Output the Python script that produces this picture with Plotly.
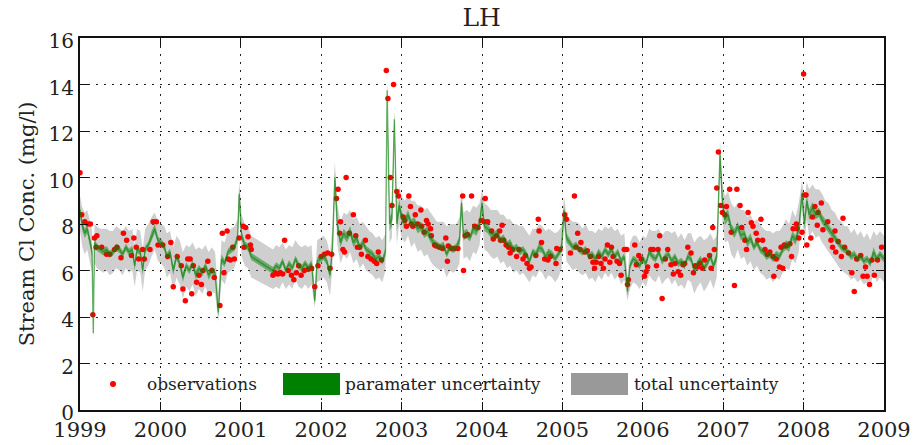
import plotly.graph_objects as go

# ---------------- observations (decimal year, mg/l) ----------------
obs_t = [
    1999.00, 1999.02, 1999.06, 1999.10, 1999.13, 1999.16, 1999.18, 1999.20, 1999.21, 1999.27,
    1999.33, 1999.37, 1999.43, 1999.46, 1999.51, 1999.54, 1999.58, 1999.64, 1999.67, 1999.70,
    1999.73, 1999.78, 1999.80, 1999.87, 1999.91, 1999.95, 1999.97, 2000.03, 2000.09, 2000.13,
    2000.16, 2000.21, 2000.26, 2000.28, 2000.31, 2000.34, 2000.37, 2000.39, 2000.41, 2000.45,
    2000.48, 2000.51, 2000.53, 2000.59, 2000.61, 2000.64, 2000.67, 2000.74, 2000.77, 2000.79,
    2000.83, 2000.84, 2000.87, 2000.90, 2000.92, 2000.98, 2001.03, 2001.04, 2001.06, 2001.09,
    2001.12, 2001.13, 2001.40, 2001.43, 2001.46, 2001.49, 2001.52, 2001.545, 2001.59, 2001.63,
    2001.66, 2001.69, 2001.72, 2001.75, 2001.79, 2001.84, 2001.88, 2001.92, 2001.96, 2002.00,
    2002.04, 2002.08, 2002.11, 2002.13, 2002.19, 2002.21, 2002.23, 2002.24, 2002.27, 2002.29,
    2002.31, 2002.35, 2002.40, 2002.43, 2002.45, 2002.48, 2002.50, 2002.55, 2002.58, 2002.62,
    2002.66, 2002.69, 2002.71, 2002.75, 2002.81, 2002.83, 2002.86, 2002.88, 2002.90, 2002.94,
    2002.96, 2003.02, 2003.04, 2003.06, 2003.09, 2003.11, 2003.12, 2003.14, 2003.17, 2003.20,
    2003.24, 2003.25, 2003.28, 2003.31, 2003.33, 2003.36, 2003.37, 2003.41, 2003.43, 2003.47,
    2003.51, 2003.55, 2003.57, 2003.58, 2003.62, 2003.66, 2003.70, 2003.76, 2003.77, 2003.79,
    2003.82, 2003.87, 2003.91, 2003.95, 2003.99, 2004.03, 2004.04, 2004.07, 2004.12, 2004.14,
    2004.18, 2004.22, 2004.23, 2004.25, 2004.27, 2004.30, 2004.33, 2004.35, 2004.38, 2004.43,
    2004.46, 2004.51, 2004.54, 2004.56, 2004.59, 2004.61, 2004.67, 2004.70, 2004.71, 2004.74,
    2004.78, 2004.82, 2004.85, 2004.92, 2004.93, 2004.97, 2005.03, 2005.05, 2005.10, 2005.15,
    2005.17, 2005.19, 2005.22, 2005.23, 2005.28, 2005.31, 2005.35, 2005.38, 2005.40, 2005.42,
    2005.45, 2005.48, 2005.51, 2005.53, 2005.56, 2005.59, 2005.61, 2005.63, 2005.68, 2005.71,
    2005.73, 2005.77, 2005.80, 2005.81, 2005.82, 2005.90, 2005.92, 2005.95, 2005.98, 2006.02,
    2006.04, 2006.06, 2006.10, 2006.13, 2006.17, 2006.19, 2006.21, 2006.24, 2006.28, 2006.31,
    2006.35, 2006.38, 2006.40, 2006.44, 2006.47, 2006.50, 2006.52, 2006.56, 2006.60, 2006.63,
    2006.65, 2006.68, 2006.71, 2006.74, 2006.77, 2006.83, 2006.85, 2006.87, 2006.89, 2006.92,
    2006.94, 2006.97, 2006.99, 2007.02, 2007.04, 2007.08, 2007.10, 2007.14, 2007.17, 2007.21,
    2007.23, 2007.27, 2007.29, 2007.31, 2007.35, 2007.37, 2007.41, 2007.43, 2007.47, 2007.49,
    2007.52, 2007.55, 2007.58, 2007.62, 2007.63, 2007.66, 2007.70, 2007.72, 2007.74, 2007.76,
    2007.78, 2007.83, 2007.85, 2007.87, 2007.91, 2007.92, 2007.94, 2007.98, 2008.00, 2008.01,
    2008.03, 2008.04, 2008.09, 2008.11, 2008.14, 2008.17, 2008.18, 2008.22, 2008.24, 2008.30,
    2008.34, 2008.36, 2008.39, 2008.40, 2008.43, 2008.47, 2008.49, 2008.51, 2008.56, 2008.60,
    2008.63, 2008.66, 2008.71, 2008.74, 2008.77, 2008.79, 2008.82, 2008.85, 2008.88, 2008.92,
    2008.97,
]
obs_v = [
    10.2, 8.4, 8.1, 8.0, 8.0, 4.1, 7.4, 7.0, 7.5, 7.0,
    6.7, 6.7, 6.9, 7.0, 6.55, 7.6, 7.3, 6.65, 7.4, 7.0,
    6.5, 6.9, 6.5, 6.9, 8.1, 8.1, 7.1, 7.1, 6.6, 7.2,
    5.3, 6.6, 6.2, 5.2, 4.7, 6.5, 6.5, 5.0, 6.2, 5.5,
    5.8, 5.4, 6.0, 6.4, 5.0, 6.0, 5.7, 4.5, 7.6, 5.9,
    7.7, 6.5, 6.45, 7.0, 6.5, 7.4, 7.9, 7.0, 7.85, 7.45,
    7.1, 6.9, 5.8, 5.9, 5.85, 5.9, 5.85, 7.3, 6.0, 5.8,
    5.6, 5.9, 6.2, 5.8, 6.0, 6.05, 6.1, 5.3, 6.2, 6.6,
    6.7, 6.75, 6.1, 6.7, 9.1, 9.5, 7.6, 8.1, 6.9, 6.8,
    10.0, 7.6, 8.4, 7.5, 7.0, 7.0, 6.7, 7.3, 6.6, 6.5,
    6.4, 6.3, 6.8, 6.45, 14.6, 13.4, 10.0, 8.8, 14.0, 9.4,
    9.2, 8.3, 8.15, 7.9, 9.2, 8.75, 8.0, 7.9, 8.4, 8.0,
    8.6, 7.9, 7.65, 8.15, 8.0, 7.8, 7.5, 7.1, 7.05, 7.0,
    6.95, 7.4, 6.4, 7.05, 6.95, 6.95, 6.95, 9.2, 6.0, 7.5,
    7.55, 9.2, 7.9, 7.85, 8.15, 8.1, 9.1, 8.1, 7.7, 7.35,
    7.5, 7.7, 7.3, 7.95, 7.3, 7.1, 7.0, 6.75, 6.9, 6.6,
    6.9, 6.5, 6.65, 6.3, 6.1, 6.15, 6.65, 8.2, 7.7, 7.2,
    6.5, 6.45, 6.6, 6.3, 6.95, 6.9, 8.4, 8.2, 6.75, 9.2,
    7.0, 7.6, 6.9, 7.2, 6.8, 6.85, 6.6, 6.35, 6.1, 6.35,
    6.6, 6.3, 6.1, 6.5, 7.1, 6.35, 7.0, 6.6, 6.4, 6.3,
    5.8, 6.9, 6.9, 5.4, 5.6, 7.1, 6.25, 6.65, 6.5, 5.75,
    5.95, 6.15, 6.9, 6.9, 6.2, 6.9, 7.5, 4.8, 6.5, 6.9,
    6.25, 5.85, 6.3, 5.95, 5.8, 6.25, 6.3, 7.0, 6.75, 5.9,
    6.2, 6.15, 6.3, 6.1, 6.45, 6.65, 6.1, 7.85, 6.9, 9.55,
    11.1, 8.8, 8.5, 8.4, 8.75, 9.5, 7.65, 5.35, 9.5, 8.8,
    7.85, 7.3, 6.9, 8.5, 8.05, 7.9, 7.6, 7.3, 8.2, 7.3,
    6.9, 6.7, 6.8, 6.6, 5.75, 6.5, 6.15, 7.0, 6.1, 7.1,
    7.05, 7.15, 6.6, 7.8, 8.0, 7.8, 7.4, 7.65, 14.45, 9.25,
    9.25, 7.1, 7.4, 8.3, 8.75, 7.95, 8.5, 8.9, 7.75, 8.1,
    7.3, 7.0, 7.7, 6.8, 7.25, 6.6, 8.25, 7.0, 6.75, 5.9,
    5.1, 6.5, 6.65, 5.75, 6.15, 5.75, 5.4, 6.45, 5.8, 6.45,
    7.0,
]

# ---------------- simulated concentration (decimal year, mg/l) ----------------
sim_t = [
    1999.00, 1999.03, 1999.06, 1999.09, 1999.12, 1999.15, 1999.165, 1999.18, 1999.21, 1999.25,
    1999.29, 1999.33, 1999.37, 1999.41, 1999.45, 1999.49, 1999.53, 1999.57, 1999.61, 1999.65,
    1999.68, 1999.71, 1999.75, 1999.78, 1999.81, 1999.85, 1999.89, 1999.93, 1999.97,
    2000.01, 2000.05, 2000.08, 2000.12, 2000.16, 2000.20, 2000.24, 2000.28, 2000.32, 2000.36,
    2000.40, 2000.44, 2000.48, 2000.52, 2000.56, 2000.60, 2000.64, 2000.68, 2000.72, 2000.76,
    2000.80, 2000.84, 2000.88, 2000.92, 2000.96, 2000.98,
    2001.01, 2001.05, 2001.09, 2001.13, 2001.40, 2001.44, 2001.48, 2001.52, 2001.56, 2001.60,
    2001.64, 2001.68, 2001.72, 2001.76, 2001.80, 2001.84, 2001.88, 2001.92, 2001.95, 2001.99,
    2002.03, 2002.07, 2002.11, 2002.14, 2002.17, 2002.20, 2002.24, 2002.28, 2002.32, 2002.36,
    2002.40, 2002.44, 2002.48, 2002.52, 2002.56, 2002.60, 2002.64, 2002.68, 2002.72, 2002.76,
    2002.80, 2002.82, 2002.85, 2002.88, 2002.91, 2002.94, 2002.97,
    2003.00, 2003.04, 2003.08, 2003.12, 2003.16, 2003.20, 2003.24, 2003.28, 2003.32, 2003.36,
    2003.40, 2003.44, 2003.48, 2003.52, 2003.56, 2003.60, 2003.64, 2003.68, 2003.72, 2003.745,
    2003.77, 2003.81, 2003.85, 2003.89, 2003.93, 2003.97,
    2004.00, 2004.03, 2004.07, 2004.11, 2004.15, 2004.19, 2004.23, 2004.27, 2004.31, 2004.35,
    2004.39, 2004.43, 2004.47, 2004.51, 2004.55, 2004.59, 2004.63, 2004.67, 2004.71, 2004.75,
    2004.79, 2004.83, 2004.87, 2004.91, 2004.95, 2004.99,
    2005.02, 2005.05, 2005.09, 2005.13, 2005.17, 2005.21, 2005.25, 2005.29, 2005.33, 2005.37,
    2005.41, 2005.45, 2005.49, 2005.53, 2005.57, 2005.61, 2005.65, 2005.69, 2005.73, 2005.77,
    2005.81, 2005.84, 2005.88, 2005.92, 2005.96,
    2006.00, 2006.04, 2006.08, 2006.12, 2006.16, 2006.20, 2006.24, 2006.28, 2006.32, 2006.36,
    2006.40, 2006.44, 2006.48, 2006.52, 2006.56, 2006.60, 2006.64, 2006.68, 2006.72, 2006.76,
    2006.80, 2006.84, 2006.88, 2006.92, 2006.96, 2006.99,
    2007.02, 2007.06, 2007.10, 2007.14, 2007.18, 2007.22, 2007.26, 2007.30, 2007.34, 2007.38,
    2007.42, 2007.46, 2007.50, 2007.54, 2007.58, 2007.62, 2007.66, 2007.70, 2007.74, 2007.78,
    2007.82, 2007.86, 2007.90, 2007.94, 2007.98,
    2008.01, 2008.04, 2008.07, 2008.11, 2008.15, 2008.19, 2008.23, 2008.27, 2008.31, 2008.35,
    2008.39, 2008.43, 2008.47, 2008.51, 2008.55, 2008.59, 2008.63, 2008.67, 2008.71, 2008.75,
    2008.79, 2008.83, 2008.87, 2008.91, 2008.95, 2009.00,
]
sim_v = [
    8.6, 7.9, 7.6, 7.8, 7.3, 6.8, 3.3, 7.2, 7.0, 6.9,
    6.8, 6.9, 6.7, 6.8, 7.0, 6.9, 6.7, 7.0, 6.8, 6.9,
    6.2, 6.9, 6.8, 6.0, 6.9, 7.1, 7.5, 7.8, 7.3,
    7.2, 7.0, 6.6, 6.8, 6.0, 6.6, 6.3, 5.7, 6.2, 6.0,
    6.3, 5.8, 6.1, 5.9, 6.2, 5.8, 6.0, 5.9, 4.2, 6.5,
    6.3, 6.8, 6.9, 7.0, 7.4, 9.3,
    7.5, 7.1, 7.0, 6.6, 6.0, 6.2, 6.1, 6.4, 6.0, 6.3,
    6.1, 6.5, 6.2, 6.1, 6.3, 6.1, 6.3, 4.7, 6.4, 6.5,
    6.6, 6.4, 5.8, 7.0, 10.0, 8.0, 7.2, 7.6, 7.4, 7.7,
    7.2, 7.4, 7.0, 7.2, 6.9, 6.8, 6.7, 6.5, 6.6, 6.4,
    6.8, 13.75, 8.0, 8.2, 12.5, 8.0, 8.8,
    8.3, 8.1, 8.4, 8.0, 8.1, 7.8, 7.9, 7.6, 7.7, 7.4,
    7.2, 7.1, 7.0, 7.1, 6.7, 7.0, 6.9, 7.0, 7.3, 8.9,
    7.5, 7.6, 7.4, 7.8, 7.7, 8.0,
    8.9, 7.9, 7.8, 7.6, 7.5, 7.6, 7.3, 7.4, 7.1, 7.2,
    6.9, 7.0, 6.8, 6.9, 6.7, 6.4, 6.8, 6.7, 7.0, 6.9,
    6.6, 6.8, 6.7, 6.5, 6.7, 7.0,
    8.6, 7.4, 7.2, 7.0, 7.1, 6.9, 6.8, 6.9, 6.6, 6.7,
    6.5, 6.8, 6.6, 6.9, 6.7, 6.9, 6.6, 6.8, 6.4, 6.6,
    5.1, 6.2, 6.5, 6.4, 6.2,
    6.5, 6.3, 6.8, 6.6, 6.5, 6.8, 6.4, 6.6, 6.7, 6.4,
    6.6, 6.3, 6.4, 6.2, 6.6, 6.5, 6.0, 6.3, 6.5, 6.1,
    6.3, 6.6, 6.2, 6.6, 11.0, 9.0,
    8.2, 8.4, 7.8, 7.6, 7.9, 7.5, 7.6, 7.2, 7.4, 7.0,
    7.2, 6.9, 6.8, 6.6, 6.7, 6.5, 6.7, 6.6, 6.9, 7.1,
    7.0, 7.5, 7.3, 7.8, 9.3,
    8.0, 9.0, 8.4, 8.7, 8.4, 8.5, 8.2, 8.0, 7.8, 7.6,
    7.4, 7.2, 7.0, 6.9, 6.8, 6.6, 6.7, 6.5, 6.6, 6.4,
    6.5, 6.3, 6.8, 6.5, 6.7, 6.5,
]

# half-width of the parameter-uncertainty band (mg/l)
par_w = [
    0.2, 0.2, 0.2, 0.2, 0.2, 0.2, 0.2, 0.2, 0.15, 0.15,
    0.15, 0.15, 0.15, 0.15, 0.15, 0.15, 0.15, 0.15, 0.15, 0.15,
    0.2, 0.15, 0.15, 0.2, 0.15, 0.15, 0.2, 0.2, 0.15,
    0.15, 0.15, 0.15, 0.15, 0.2, 0.15, 0.15, 0.2, 0.15, 0.15,
    0.15, 0.2, 0.15, 0.15, 0.15, 0.2, 0.15, 0.15, 0.2, 0.2,
    0.15, 0.15, 0.15, 0.15, 0.2, 0.25,
    0.2, 0.15, 0.15, 0.15, 0.15, 0.15, 0.15, 0.15, 0.15, 0.15,
    0.15, 0.15, 0.15, 0.15, 0.15, 0.15, 0.15, 0.2, 0.15, 0.15,
    0.15, 0.15, 0.2, 0.2, 0.3, 0.25, 0.2, 0.2, 0.2, 0.2,
    0.2, 0.2, 0.15, 0.15, 0.15, 0.15, 0.15, 0.15, 0.15, 0.15,
    0.2, 0.3, 0.3, 0.3, 0.3, 0.3, 0.25,
    0.25, 0.2, 0.2, 0.2, 0.2, 0.2, 0.2, 0.2, 0.2, 0.2,
    0.15, 0.15, 0.15, 0.15, 0.15, 0.15, 0.15, 0.15, 0.2, 0.25,
    0.2, 0.2, 0.15, 0.2, 0.2, 0.2,
    0.25, 0.2, 0.2, 0.2, 0.15, 0.2, 0.15, 0.15, 0.15, 0.15,
    0.15, 0.15, 0.15, 0.15, 0.15, 0.15, 0.15, 0.15, 0.2, 0.15,
    0.15, 0.15, 0.15, 0.15, 0.15, 0.2,
    0.25, 0.2, 0.15, 0.15, 0.15, 0.15, 0.15, 0.15, 0.15, 0.15,
    0.15, 0.15, 0.15, 0.15, 0.15, 0.15, 0.15, 0.15, 0.15, 0.15,
    0.2, 0.15, 0.15, 0.15, 0.15,
    0.15, 0.15, 0.15, 0.15, 0.15, 0.15, 0.15, 0.15, 0.15, 0.15,
    0.15, 0.15, 0.15, 0.15, 0.15, 0.15, 0.15, 0.15, 0.15, 0.15,
    0.15, 0.15, 0.15, 0.2, 0.3, 0.25,
    0.25, 0.25, 0.2, 0.2, 0.2, 0.2, 0.2, 0.2, 0.2, 0.15,
    0.15, 0.15, 0.15, 0.15, 0.15, 0.15, 0.15, 0.15, 0.15, 0.2,
    0.2, 0.2, 0.2, 0.2, 0.25,
    0.25, 0.25, 0.25, 0.25, 0.2, 0.2, 0.2, 0.2, 0.2, 0.2,
    0.15, 0.15, 0.15, 0.15, 0.15, 0.15, 0.15, 0.15, 0.15, 0.15,
    0.15, 0.15, 0.2, 0.15, 0.15, 0.15,
]

# distance from the simulation to the upper / lower edge of the total-uncertainty band (mg/l)
tot_up = [
    0.6, 0.8, 0.9, 0.8, 0.9, 0.9, 0.5, 0.8, 0.9, 0.9,
    1.0, 0.9, 1.0, 0.9, 0.9, 0.9, 1.0, 0.9, 0.9, 0.9,
    0.9, 0.9, 0.9, 0.9, 0.9, 0.9, 0.8, 0.7, 0.8,
    0.8, 0.9, 1.0, 0.9, 1.0, 0.9, 1.0, 1.1, 0.9, 1.0,
    0.9, 1.1, 0.9, 1.0, 0.9, 1.0, 1.0, 0.9, 0.8, 0.8,
    0.9, 0.9, 0.9, 0.9, 0.8, 0.6,
    0.9, 0.9, 0.9, 0.9, 0.9, 0.9, 0.9, 0.8, 0.9, 0.8,
    0.9, 0.8, 0.9, 0.9, 0.8, 0.9, 0.8, 0.5, 0.9, 0.9,
    0.9, 0.9, 0.9, 0.9, 0.7, 0.9, 0.9, 0.9, 1.0, 0.9,
    1.0, 0.9, 1.0, 0.9, 1.0, 0.9, 0.9, 0.9, 0.9, 0.9,
    0.8, 0.4, 0.8, 0.8, 0.4, 0.9, 0.8,
    0.9, 0.9, 0.9, 1.0, 0.9, 1.0, 0.9, 1.0, 1.0, 1.1,
    1.1, 1.0, 1.1, 1.0, 1.2, 1.0, 1.1, 1.0, 1.0, 0.6,
    1.0, 1.0, 1.1, 1.0, 1.0, 0.9,
    0.6, 1.0, 1.0, 1.0, 1.1, 1.0, 1.1, 1.0, 1.1, 1.0,
    1.1, 1.0, 1.1, 1.0, 1.0, 1.1, 1.0, 1.1, 1.0, 1.0,
    1.1, 1.0, 1.0, 1.1, 1.0, 0.9,
    0.6, 1.0, 1.0, 1.1, 1.0, 1.1, 1.0, 1.1, 1.1, 1.0,
    1.1, 1.0, 1.1, 1.0, 1.1, 1.0, 1.1, 1.0, 1.1, 1.0,
    0.6, 1.0, 1.0, 1.1, 1.0,
    1.0, 1.1, 1.0, 1.1, 1.2, 1.0, 1.1, 1.1, 1.0, 1.2,
    1.1, 1.1, 1.2, 1.1, 1.0, 1.1, 1.2, 1.1, 1.0, 1.2,
    1.1, 1.0, 1.1, 0.9, 0.6, 0.8,
    1.0, 1.0, 1.1, 1.1, 1.0, 1.1, 1.0, 1.1, 1.0, 1.1,
    1.0, 1.1, 1.0, 1.1, 1.0, 1.1, 1.0, 1.1, 1.0, 1.1,
    1.0, 1.1, 1.0, 1.1, 0.6,
    1.0, 0.8, 1.1, 1.0, 1.1, 1.0, 1.1, 1.0, 1.1, 1.0,
    1.1, 1.0, 1.1, 1.0, 1.1, 1.0, 1.1, 1.0, 1.1, 1.0,
    1.1, 1.0, 0.9, 1.0, 1.0, 1.0,
]
tot_dn = [
    0.9, 0.9, 0.9, 0.9, 0.9, 0.9, 0.2, 0.9, 0.9, 0.9,
    0.9, 0.9, 0.9, 0.9, 0.9, 0.9, 0.9, 0.9, 0.9, 0.9,
    0.9, 0.9, 0.9, 0.9, 0.9, 0.9, 0.9, 0.9, 0.9,
    0.9, 0.9, 0.9, 0.9, 0.9, 0.9, 0.9, 0.9, 0.9, 0.9,
    0.9, 0.9, 0.9, 0.9, 0.9, 0.9, 0.9, 0.9, 0.4, 0.9,
    0.9, 0.9, 0.9, 0.9, 0.8, 0.6,
    0.9, 0.9, 0.9, 0.9, 0.8, 0.9, 0.9, 0.9, 0.8, 0.9,
    0.9, 0.9, 0.9, 0.9, 0.9, 0.9, 0.9, 0.3, 0.9, 0.9,
    0.9, 0.9, 0.9, 0.9, 0.6, 0.9, 0.9, 0.9, 0.9, 0.9,
    0.9, 0.9, 0.9, 0.9, 0.9, 0.9, 0.9, 0.9, 0.9, 0.9,
    0.8, 0.4, 0.8, 0.8, 0.4, 0.9, 0.8,
    0.9, 0.9, 0.9, 1.0, 0.9, 1.0, 1.0, 1.0, 1.0, 1.0,
    1.0, 1.0, 1.0, 1.0, 1.0, 1.0, 1.0, 1.0, 1.0, 0.6,
    1.0, 1.0, 1.0, 1.0, 1.0, 0.9,
    0.6, 1.0, 1.0, 1.0, 1.0, 1.0, 1.0, 1.0, 1.0, 1.0,
    1.0, 1.0, 1.0, 1.0, 1.0, 0.9, 1.0, 1.0, 1.0, 1.0,
    1.0, 1.0, 1.0, 1.0, 1.0, 0.9,
    0.6, 1.0, 1.0, 1.0, 1.0, 1.0, 1.0, 1.0, 1.0, 1.0,
    1.0, 1.0, 1.0, 1.0, 1.0, 1.0, 1.0, 1.0, 1.0, 1.0,
    0.4, 1.0, 1.0, 1.0, 1.0,
    1.0, 1.0, 1.0, 1.0, 1.0, 1.0, 1.0, 1.0, 1.0, 1.0,
    1.0, 1.0, 1.0, 1.0, 1.0, 1.0, 1.0, 1.0, 1.0, 1.0,
    1.0, 1.0, 1.0, 0.9, 0.6, 0.9,
    1.0, 1.1, 1.1, 1.1, 1.0, 1.0, 1.0, 1.0, 1.0, 1.0,
    1.0, 1.0, 1.0, 1.0, 1.0, 1.0, 1.0, 1.0, 1.0, 1.0,
    1.0, 1.0, 1.0, 1.0, 0.6,
    1.0, 0.8, 1.0, 1.0, 1.0, 1.0, 1.0, 1.0, 1.0, 1.0,
    1.0, 1.0, 1.0, 1.0, 1.0, 1.0, 1.0, 1.0, 1.0, 1.0,
    1.0, 1.0, 0.9, 1.0, 1.0, 1.0,
]

year_ticks = list(range(1999, 2010))
conc_ticks = list(range(0, 17, 2))

tot_hi = [v + u for v, u in zip(sim_v, tot_up)]
tot_lo = [v - d for v, d in zip(sim_v, tot_dn)]
par_hi = [v + w for v, w in zip(sim_v, par_w)]
par_lo = [v - w for v, w in zip(sim_v, par_w)]

FONT = "DejaVu Serif"
GRAY_FILL = "rgba(128,128,128,0.38)"
GREEN_FILL = "rgba(0,128,0,0.48)"
GREEN_LINE = "rgba(0,128,0,0.55)"

fig = go.Figure()

# total uncertainty band
fig.add_trace(go.Scatter(x=sim_t, y=tot_lo, mode="lines", line=dict(width=0),
                         hoverinfo="skip", showlegend=False))
fig.add_trace(go.Scatter(x=sim_t, y=tot_hi, mode="lines", line=dict(width=0),
                         fill="tonexty", fillcolor=GRAY_FILL, hoverinfo="skip",
                         showlegend=False))

# observations
fig.add_trace(go.Scatter(x=obs_t, y=obs_v, mode="markers", name="observations",
                         marker=dict(color="#ff0000", size=5.5, line=dict(width=0)),
                         showlegend=False))

# parameter uncertainty band and simulated concentration
fig.add_trace(go.Scatter(x=sim_t, y=par_lo, mode="lines", line=dict(width=0),
                         hoverinfo="skip", showlegend=False))
fig.add_trace(go.Scatter(x=sim_t, y=par_hi, mode="lines", line=dict(width=0),
                         fill="tonexty", fillcolor=GREEN_FILL, hoverinfo="skip",
                         showlegend=False))
fig.add_trace(go.Scatter(x=sim_t, y=sim_v, mode="lines", line=dict(color=GREEN_LINE, width=1.4),
                         showlegend=False))

# plot-area geometry in pixels, used to place the legend box
W, H = 914, 445
ML, MR, MT, MB = 80, 30, 38, 35
PW, PH = W - ML - MR, H - MT - MB


def px(xp):
    return (xp - ML) / PW


def py(yp):
    return (H - MB - yp) / PH


shapes = [
    dict(type="circle", xref="paper", yref="paper",
         x0=px(110), x1=px(116), y0=py(387), y1=py(381),
         fillcolor="#ff0000", line=dict(width=0)),
    dict(type="rect", xref="paper", yref="paper",
         x0=px(283), x1=px(340), y0=py(395), y1=py(373),
         fillcolor="#008000", line=dict(width=0)),
    dict(type="rect", xref="paper", yref="paper",
         x0=px(571), x1=px(628), y0=py(395), y1=py(373),
         fillcolor="#999999", line=dict(width=0)),
]
legend_text = [("observations", 145), ("paramater uncertainty", 343), ("total uncertainty", 632)]
annotations = [
    dict(text=t, xref="paper", yref="paper", x=px(xl), y=py(384), xanchor="left",
         yanchor="middle", showarrow=False, font=dict(family=FONT, size=17, color="#222"))
    for t, xl in legend_text
]

axis_common = dict(
    showgrid=True, gridcolor="#222", gridwidth=1, griddash="2px,6px",
    showline=True, linecolor="#111", linewidth=2, mirror="ticks",
    ticks="inside", ticklen=8, tickwidth=1.2, tickcolor="#111",
    zeroline=False, automargin=False,
)

fig.update_layout(
    width=W, height=H,
    margin=dict(l=ML, r=MR, t=MT, b=MB),
    paper_bgcolor="white", plot_bgcolor="white",
    title=dict(text="LH", x=0.527, xanchor="center", y=0.962, yanchor="middle",
               font=dict(family=FONT, size=25, color="#222")),
    xaxis=dict(range=[1999, 2009], tickvals=year_ticks, ticklabelstandoff=0,
               ticktext=[str(y) for y in year_ticks],
               tickfont=dict(family=FONT, size=21, color="#222"), **axis_common),
    yaxis=dict(range=[0, 16], tickvals=conc_ticks, ticklabelshift=3,
               tickfont=dict(family=FONT, size=20, color="#222"),
               title=dict(text="Stream Cl Conc. (mg/l)", standoff=8,
                          font=dict(family=FONT, size=21, color="#222")),
               **axis_common),
    shapes=shapes,
    annotations=annotations,
    showlegend=False,
)

fig.write_html("out.html")
